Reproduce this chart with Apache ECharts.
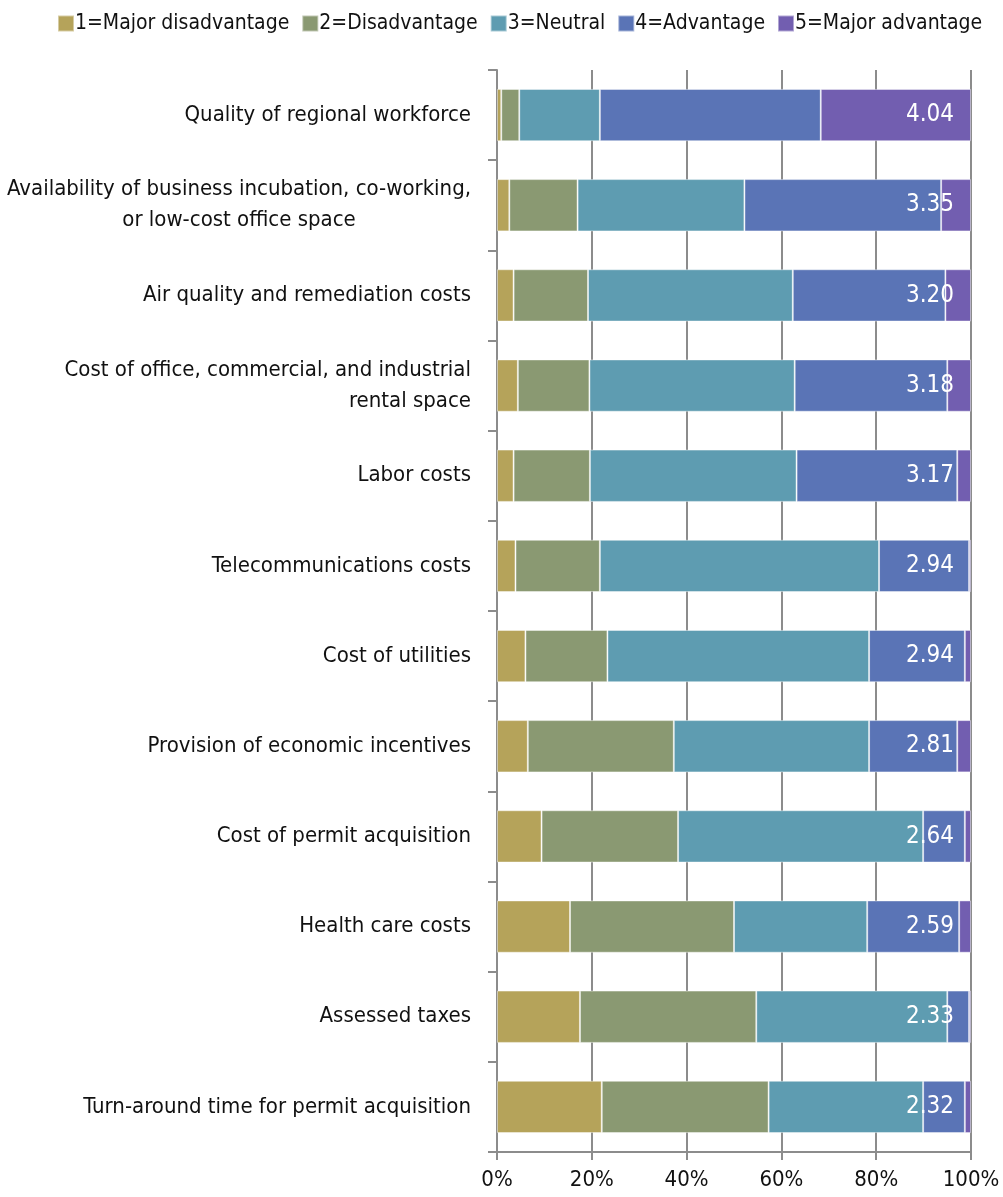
<!DOCTYPE html>
<html>
<head>
<meta charset="utf-8">
<script src="https://cdn.jsdelivr.net/npm/echarts@6/dist/echarts.min.js"></script>
<style>
  html, body { margin: 0; padding: 0; background: #fff; }
  #chart { width: 1003px; height: 1197px; }
</style>
</head>
<body>
<div id="chart"></div>
<script>
var categories = [
  'Quality of regional workforce',
  'Availability of business incubation, co-working,\nor low-cost office space',
  'Air quality and remediation costs',
  'Cost of office, commercial, and industrial\nrental space',
  'Labor costs',
  'Telecommunications costs',
  'Cost of utilities',
  'Provision of economic incentives',
  'Cost of permit acquisition',
  'Health care costs',
  'Assessed taxes',
  'Turn-around time for permit acquisition'
];
var seriesNames = ['1=Major disadvantage', '2=Disadvantage', '3=Neutral', '4=Advantage', '5=Major advantage'];
var majorDisadvantage = [0.9, 2.6, 3.5, 4.4, 3.5, 3.9, 6.0, 6.5, 9.4, 15.4, 17.5, 22.1];
var disadvantage      = [3.8, 14.4, 15.7, 15.1, 16.1, 17.8, 17.3, 30.8, 28.8, 34.6, 37.2, 35.2];
var neutral           = [17.0, 35.2, 43.2, 43.3, 43.6, 58.9, 55.2, 41.2, 51.7, 28.1, 40.3, 32.6];
var advantage         = [46.6, 41.5, 32.2, 32.2, 33.9, 19.0, 20.2, 18.6, 8.8, 19.4, 4.6, 8.8];
var majorAdvantage    = [31.7, 6.3, 5.4, 5.0, 2.9, 0.4, 1.3, 2.9, 1.3, 2.5, 0.4, 1.3];
var means = ['4.04', '3.35', '3.20', '3.18', '3.17', '2.94', '2.94', '2.81', '2.64', '2.59', '2.33', '2.32'];
var xTicks = [0, 20, 40, 60, 80, 100];

var colors = ['#b5a35a', '#8a9972', '#5e9cb1', '#5a74b6', '#725eb0'];
var FONT = '"Liberation Sans Narrow", "DejaVu Sans Condensed", "Roboto Condensed", "Noto Sans", sans-serif';
var dataSets = [majorDisadvantage, disadvantage, neutral, advantage, majorAdvantage];

var series = dataSets.map(function (d, i) {
  var s = {
    name: seriesNames[i],
    type: 'bar',
    stack: 'total',
    data: d,
    barCategoryGap: '42%',
    itemStyle: { color: colors[i], borderColor: 'rgba(255,255,255,0.45)', borderWidth: 1 },
    emphasis: { disabled: true }
  };
  if (i === 4) {
    s.label = {
      show: true,
      position: 'insideRight',
      distance: 17,
      formatter: function (p) { return means[p.dataIndex]; },
      color: '#ffffff',
      fontFamily: FONT,
      fontSize: 24
    };
  }
  return s;
});

var chart = echarts.init(document.getElementById('chart'), null, { renderer: 'canvas' });
chart.setOption({
  animation: false,
  color: colors,
  textStyle: { fontFamily: FONT },
  legend: {
    top: 8,
    left: 52,
    itemWidth: 16,
    itemHeight: 16,
    itemGap: 12,
    icon: 'rect',
    textStyle: { fontFamily: FONT, fontSize: 21, color: '#111', padding: [0, 0, 0, -4] },
    data: seriesNames
  },
  grid: { left: 497, right: 32, top: 70, bottom: 45, containLabel: false },
  xAxis: {
    type: 'value',
    min: 0,
    max: 100,
    interval: 20,
    axisLine: { show: true, lineStyle: { color: '#8c8c8c', width: 2 } },
    axisTick: { show: true, length: 8, lineStyle: { color: '#8c8c8c', width: 2 } },
    splitLine: { show: true, lineStyle: { color: '#8c8c8c', width: 2 } },
    axisLabel: {
      formatter: function (v) { return xTicks.indexOf(v) >= 0 ? v + '%' : ''; },
      fontFamily: FONT, fontSize: 22, color: '#111', margin: 17
    }
  },
  yAxis: {
    type: 'category',
    inverse: true,
    data: categories,
    axisLine: { show: true, lineStyle: { color: '#8c8c8c', width: 2 } },
    axisTick: { show: true, length: 9, lineStyle: { color: '#8c8c8c', width: 2 } },
    axisLabel: {
      fontFamily: FONT, fontSize: 22, color: '#111', margin: 26, lineHeight: 31,
      formatter: function (v) {
        var parts = v.split('\n');
        if (parts.length === 1) return v;
        if (parts[1].indexOf('or low') === 0) return parts[0] + '\n{c|' + parts[1] + '}';
        return v;
      },
      rich: { c: { align: 'center', fontFamily: FONT, fontSize: 22, color: '#111' } }
    }
  },
  series: series
});
</script>
</body>
</html>
